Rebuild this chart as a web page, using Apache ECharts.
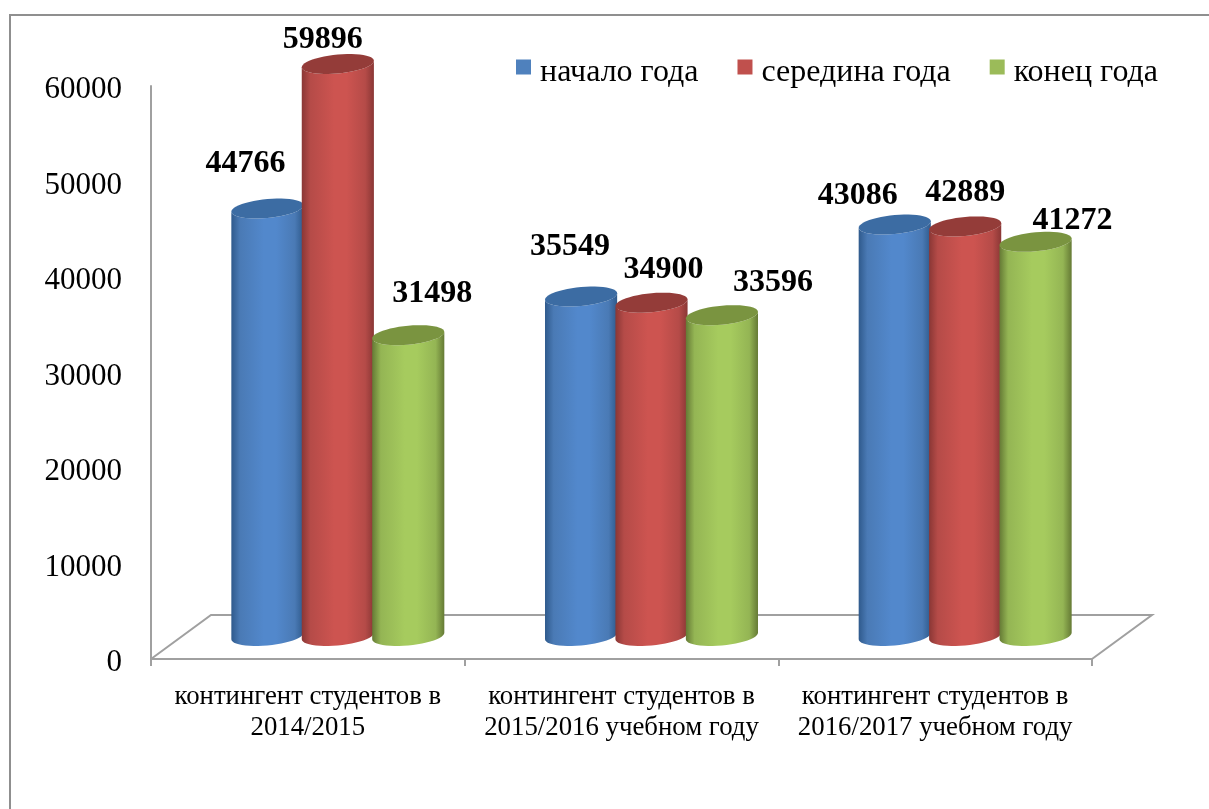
<!DOCTYPE html>
<html>
<head>
<meta charset="utf-8">
<style>
    html, body { margin: 0; padding: 0; background: #fff; }
    #main { width: 1209px; height: 809px; }
</style>
<script src="https://cdn.jsdelivr.net/npm/echarts@6/dist/echarts.min.js"></script>
</head>
<body>
<div id="main"></div>
<script>
    var categories = ['контингент студентов в\n2014/2015', 'контингент студентов в\n2015/2016 учебном году', 'контингент студентов в\n2016/2017 учебном году'];
    var startYear = [44766, 35549, 43086];
    var midYear = [59896, 34900, 42889];
    var endYear = [31498, 33596, 41272];
    var yTicks = [0, 10000, 20000, 30000, 40000, 50000, 60000];

    // подписи стоят вручную, как в оригинале: сдвиг от центра верхушки цилиндра
    var labelShift = [
        [[-22, -45], [-15, -24], [24, -41]],
        [[-11, -50], [12, -33], [51, -32]],
        [[-37, -29], [0, -34], [37, -21]]
    ];

    var serif = '"Liberation Serif", "DejaVu Serif", serif';
    var axisColor = '#a0a0a0';
    var depthX = 60, depthY = 44;   // глубина "пола"
    var liftX = 30, liftY = 23;     // цилиндры стоят посреди пола
    var tilt = -0.09;

    var myChart = echarts.init(document.getElementById('main'));

    // точка наклонного эллипса
    function ellipsePoint(cx, cy, rx, ry, t) {
        return [cx + rx * Math.cos(t), cy + ry * Math.sin(t) + rx * Math.cos(t) * tilt];
    }

    function cylinder(idx, skin) {
        return function (params, api) {
            var cat = api.value(0);
            var value = api.value(1);
            var base = api.coord([cat, 0]);
            var top = api.coord([cat, value]);
            var band = api.size([1, 0])[0];
            var pitch = band * 0.2245;
            var rx = band * 0.115;
            var ry = 9.5;
            var cx = base[0] + liftX + (idx - 1) * pitch;
            var by = base[1] - liftY;
            var ty = top[1] - liftY;
            var body = [];
            var cap = [];
            var i, t;
            for (i = 0; i <= 24; i++) {
                t = Math.PI * i / 24;
                body.push(ellipsePoint(cx, by, rx, ry, t));
            }
            for (i = 24; i >= 0; i--) {
                t = Math.PI * i / 24;
                body.push(ellipsePoint(cx, ty, rx, ry, t));
            }
            for (i = 0; i < 48; i++) {
                cap.push(ellipsePoint(cx, ty, rx, ry, Math.PI * i / 24));
            }
            var shift = labelShift[cat][idx];
            return {
                type: 'group',
                children: [{
                    type: 'polygon',
                    shape: { points: body },
                    style: {
                        fill: new echarts.graphic.LinearGradient(0, 0, 1, 0, [
                            { offset: 0, color: skin.edge },
                            { offset: 0.12, color: skin.side },
                            { offset: 0.45, color: skin.main },
                            { offset: 0.62, color: skin.main },
                            { offset: 0.88, color: skin.side },
                            { offset: 1, color: skin.edge }
                        ])
                    }
                }, {
                    type: 'polygon',
                    shape: { points: cap },
                    style: { fill: skin.cap }
                }, {
                    type: 'text',
                    x: cx + shift[0],
                    y: ty + shift[1],
                    style: {
                        text: String(value),
                        align: 'center',
                        verticalAlign: 'middle',
                        fill: '#000',
                        font: 'bold 32px ' + serif
                    }
                }]
            };
        };
    }

    function makeSeries(name, values, idx, skin) {
        return {
            name: name,
            type: 'custom',
            z: 3,
            itemStyle: { color: skin.legend },
            renderItem: cylinder(idx, skin),
            encode: { x: 0, y: 1 },
            data: values.map(function (v, i) { return [i, v]; })
        };
    }

    // пол диаграммы
    function renderFloor(params, api) {
        var a = api.coord([0, 0]);
        var band = api.size([1, 0])[0];
        a = [a[0] - band / 2, a[1]];
        var b = [a[0] + band * 3, a[1]];
        return {
            type: 'polyline',
            shape: { points: [a, [a[0] + depthX, a[1] - depthY], [b[0] + depthX, b[1] - depthY], b] },
            style: { stroke: axisColor, lineWidth: 2, fill: null },
            silent: true
        };
    }

    var option = {
        animation: false,
        backgroundColor: '#fff',
        grid: { left: 151, top: 86, width: 941, height: 573 },
        legend: {
            left: 516,
            top: 57,
            padding: 0,
            itemWidth: 15,
            itemHeight: 15,
            itemGap: 39,
            icon: 'rect',
            formatter: '{t|{name}}',
            textStyle: {
                rich: {
                    t: {
                        fontFamily: serif,
                        fontSize: 32,
                        color: '#000',
                        verticalAlign: 'top',
                        padding: [12, 0, 0, 4]
                    }
                }
            },
            data: ['начало года', 'середина года', 'конец года']
        },
        // внешняя рамка
        graphic: [{
            type: 'polyline',
            silent: true,
            shape: { points: [[10, 809], [10, 15], [1209, 15]] },
            style: { stroke: '#8f8f8f', lineWidth: 2, fill: null }
        }],
        xAxis: {
            type: 'category',
            data: categories,
            axisLine: { lineStyle: { color: axisColor, width: 2 } },
            axisTick: { show: true, length: 7, lineStyle: { color: axisColor, width: 2 } },
            axisLabel: {
                interval: 0,
                margin: 22,
                fontFamily: serif,
                fontSize: 26.8,
                lineHeight: 31,
                color: '#000'
            }
        },
        yAxis: {
            type: 'value',
            min: yTicks[0],
            max: yTicks[yTicks.length - 1],
            interval: 10000,
            splitLine: { show: false },
            axisLine: { show: true, lineStyle: { color: axisColor, width: 2 } },
            axisTick: { show: false },
            axisLabel: {
                margin: 29,
                fontFamily: serif,
                fontSize: 31,
                color: '#000',
                verticalAlign: 'top',
                lineHeight: 8,
                formatter: function (v) { return String(v); }
            }
        },
        series: [
            {
                type: 'custom',
                z: 1,
                silent: true,
                renderItem: renderFloor,
                encode: { x: 0, y: 1 },
                data: [[0, 0]]
            },
            makeSeries('начало года', startYear, 0, { main: '#5288cc', side: '#4a7ab5', edge: '#2f5a8c', cap: '#3c6ca3', legend: '#4f81bd' }),
            makeSeries('середина года', midYear, 1, { main: '#cd5450', side: '#b54b48', edge: '#8a3735', cap: '#943c39', legend: '#c0504d' }),
            makeSeries('конец года', endYear, 2, { main: '#a6cb5e', side: '#94b554', edge: '#657a35', cap: '#7a9440', legend: '#9bbb59' })
        ]
    };
    myChart.setOption(option);
</script>
</body>
</html>
